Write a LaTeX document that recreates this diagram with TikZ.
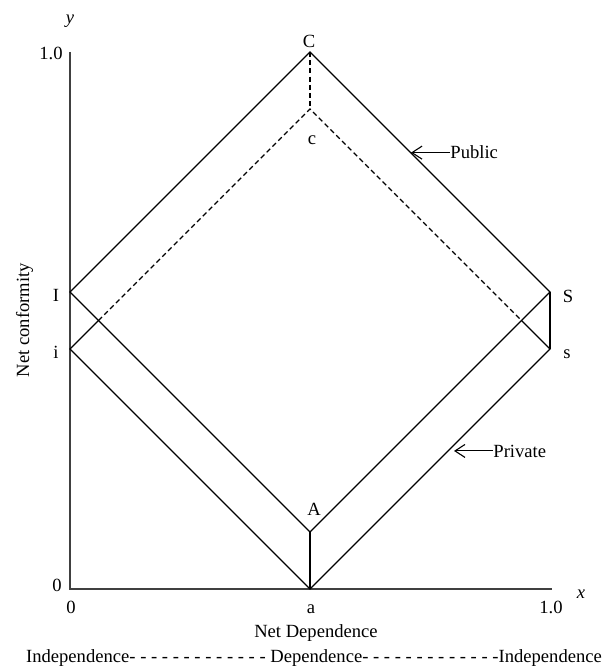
\documentclass[tikz,border=0pt]{standalone}
\usepackage{fontspec}
\setmainfont{Liberation Serif}
\usetikzlibrary{arrows.meta}

\begin{document}
\begin{tikzpicture}[x=0.5pt, y=-0.5pt,
    lbl/.style={inner sep=0pt, font=\fontsize{9.3}{11}\selectfont},
    axis/.style={line width=0.7pt, black!75},
    side/.style={line width=0.55pt},
    hidden/.style={line width=0.55pt, dash pattern=on 2.5pt off 1.6pt},
    pointer/.style={line width=0.55pt, -{Straight Barb[length=5pt, width=6.5pt]}}]
    \useasboundingbox (0,0) rectangle (607,667);

    % Axes
    \coordinate (O) at (70,589);
    \coordinate (ytop) at (70,52);
    \coordinate (xend) at (552,589);
    \draw[axis] (ytop) -- (O) -- (xend);

    % Public diamond
    \coordinate (C) at (310,52);
    \coordinate (I) at (70,292);
    \coordinate (S) at (550,292);
    \coordinate (A) at (310,532);

    % Private diamond
    \coordinate (c) at (310,109);
    \coordinate (i) at (70,349);
    \coordinate (s) at (550,349);
    \coordinate (a) at (310,589);

    % where the private diamond leaves the public one
    \coordinate (xl) at (98.5,320.5);
    \coordinate (xr) at (521.5,320.5);

    \draw[side] (I) -- (C) -- (S) -- (A) -- cycle;
    \draw[side] (xl) -- (i) -- (a) -- (s) -- (xr);
    \draw[hidden] (xl) -- (c) -- (xr);
    \draw[hidden] (C) -- (c);
    \draw[side] (S) -- (s);
    \draw[side] (A) -- (a);

    % Point labels
    \node[lbl, anchor=base] (labC) at (309,48) {C};
    \node[lbl, anchor=base] (labc) at (312,145) {c};
    \node[lbl, anchor=base] (labI) at (56,302) {I};
    \node[lbl, anchor=base] (labi) at (56,358) {i};
    \node[lbl, anchor=base] (labS) at (568,303) {S};
    \node[lbl, anchor=base] (labs) at (567,358) {s};
    \node[lbl, anchor=base] (labA) at (314,515) {A};
    \node[lbl, anchor=base] (laba) at (311,613) {a};

    % Axis labels
    \node[lbl, anchor=base] (laby) at (70,24) {\textit{y}};
    \node[lbl, anchor=base] (labx) at (581,598) {\textit{x}};
    \node[lbl, anchor=base] (ymax) at (51,60) {1.0};
    \node[lbl, anchor=base] (ymin) at (57,591) {0};
    \node[lbl, anchor=base] (xmin) at (71,613) {0};
    \node[lbl, anchor=base] (xmax) at (551,613) {1.0};
    \node[lbl, anchor=base] (xtitle) at (316,637) {Net Dependence};
    \node[lbl, anchor=base, rotate=90] (ytitle) at (29,320) {Net conformity};
    \node[lbl, anchor=base] (scale) at (314,662)
        {Independence- - - - - - - - - - - - - Dependence- - - - - - - - - - - - -Independence};

    % Public and Private pointers
    \node[lbl, anchor=base west] (labPub) at (450,159) {Public};
    \node[lbl, anchor=base west] (labPriv) at (493,457) {Private};
    \coordinate (pubTip) at (411,152);
    \coordinate (privTip) at (454,449);
    \draw[pointer] (labPub.west) -- (pubTip |- labPub.west);
    \draw[pointer] (labPriv.west) -- (privTip |- labPriv.west);
\end{tikzpicture}
\end{document}
